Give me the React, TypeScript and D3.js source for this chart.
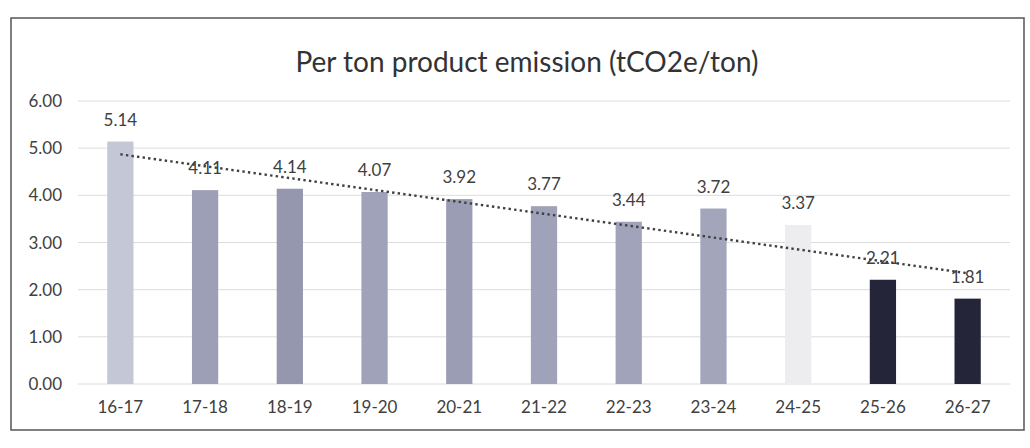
import React from "react";
import * as d3 from "d3";

const categories = ["16-17", "17-18", "18-19", "19-20", "20-21", "21-22", "22-23", "23-24", "24-25", "25-26", "26-27"];
const values = [5.14, 4.11, 4.14, 4.07, 3.92, 3.77, 3.44, 3.72, 3.37, 2.21, 1.81];
const barColors = ["#c4c7d6", "#9c9fb6", "#9497ae", "#9fa2b8", "#9a9db4", "#9fa2b8", "#a0a3b9", "#a3a6bb", "#ededf0", "#25253a", "#25253a"];
const yTicks = [0, 1, 2, 3, 4, 5, 6];
const title = "Per ton product emission (tCO2e/ton)";

const W = 1030;
const H = 448;
const font = "Lato, 'Open Sans', sans-serif";

export default function App() {
  const x = d3.scaleBand<string>().domain(categories).range([78, 1010]).paddingInner(0.69).paddingOuter(0.345);
  const y = d3.scaleLinear().domain([0, 6]).range([384, 101]);

  // linear trendline (least squares)
  const n = values.length;
  const xs = d3.range(n);
  const mx = d3.mean(xs)!;
  const my = d3.mean(values)!;
  const slope = d3.sum(xs.map((i) => (i - mx) * (values[i] - my))) / d3.sum(xs.map((i) => (i - mx) ** 2));
  const icpt = my - slope * mx;
  const trend = xs.map((i) => [x(categories[i])! + x.bandwidth() / 2, y(icpt + slope * i)] as [number, number]);
  const line = d3.line();

  return (
    <svg width={W} height={H} style={{ position: "absolute", left: 0, top: 0, background: "#fff" }}>
      <rect x={0} y={0} width={W} height={H} fill="#fff" />
      <rect x={11} y={18} width={1013} height={412} fill="#fff" stroke="#555" strokeWidth={1.5} />
      <text x={527} y={72} textAnchor="middle" fontFamily={font} fontSize={28} fill="#333">{title}</text>
      {yTicks.map((t) => (
        <g key={t}>
          {t > 0 && <line x1={78} x2={1010} y1={y(t)} y2={y(t)} stroke="#dcdcdc" strokeWidth={1} />}
          <text x={62} y={y(t) + 6} textAnchor="end" fontFamily={font} fontSize={17} fill="#404040">{t.toFixed(2)}</text>
        </g>
      ))}
      <line x1={78} x2={1010} y1={y(0)} y2={y(0)} stroke="#dcdcdc" strokeWidth={1} />
      {categories.map((c, i) => (
        <g key={c}>
          <rect x={x(c)} y={y(values[i])} width={x.bandwidth()} height={y(0) - y(values[i])} fill={barColors[i]} />
          <text x={x(c)! + x.bandwidth() / 2} y={y(values[i]) - 16} textAnchor="middle" fontFamily={font} fontSize={17} fill="#404040">{values[i].toFixed(2)}</text>
          <text x={x(c)! + x.bandwidth() / 2} y={413} textAnchor="middle" fontFamily={font} fontSize={17} fill="#404040">{c}</text>
        </g>
      ))}
      <path d={line(trend)!} fill="none" stroke="#404040" strokeWidth={2.4} strokeDasharray="2.4,3.2" />
    </svg>
  );
}
